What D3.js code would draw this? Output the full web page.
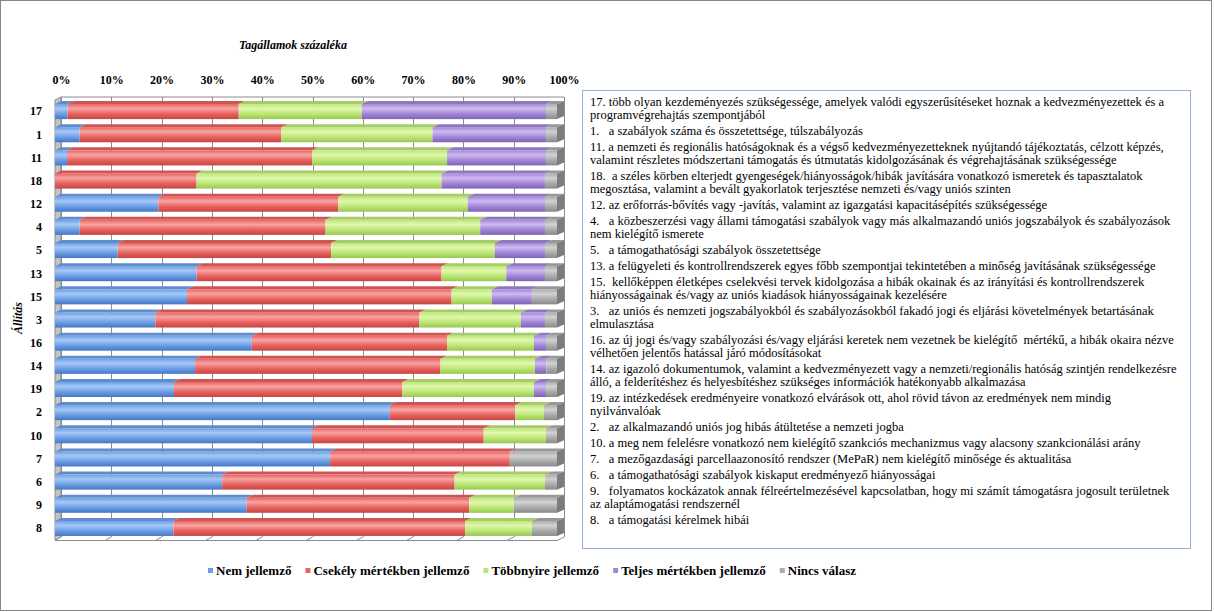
<!DOCTYPE html>
<html>
<head>
<meta charset="utf-8">
<script src="https://cdn.jsdelivr.net/npm/d3@7/dist/d3.min.js"></script>
<style>
  body { margin: 0; background: #fff; }
  svg { display: block; }
</style>
</head>
<body>
<svg id="chart" width="1214" height="612"></svg>
<script>
// statements, top to bottom as in the chart
const categories = ["17", "1", "11", "18", "12", "4", "5", "13", "15", "3", "16", "14", "19", "2", "10", "7", "6", "9", "8"];
const seriesNames = ["Nem jellemző", "Csekély mértékben jellemző", "Többnyire jellemző", "Teljes mértékben jellemző", "Nincs válasz"];

// percentages of member states
const nemJellemzo = [2.5, 4.9, 2.4, 0, 20.6, 4.9, 12.5, 28.2, 26.3, 20.0, 39.2, 27.9, 23.7, 66.7, 51.2, 54.8, 33.3, 38.2, 23.6];
const csekely     = [34.1, 40.2, 48.8, 28.2, 35.8, 49.0, 42.5, 48.8, 52.7, 52.6, 38.9, 48.9, 45.5, 25.0, 34.2, 35.8, 46.3, 44.3, 58.1];
const tobbnyire   = [24.5, 30.1, 26.9, 48.8, 25.8, 30.8, 32.6, 12.9, 8.0, 20.2, 17.3, 18.8, 26.2, 5.7, 12.4, 0, 18.0, 8.9, 13.3];
const teljes      = [36.7, 22.6, 19.7, 20.6, 15.4, 12.9, 10.0, 7.7, 8.0, 4.8, 2.4, 2.3, 2.4, 0, 0, 0, 0, 0, 0];
const nincs       = [2.2, 2.2, 2.2, 2.4, 2.4, 2.4, 2.4, 2.4, 5.0, 2.4, 2.2, 2.1, 2.2, 2.6, 2.2, 9.4, 2.4, 8.6, 5.0];

const tickValues = [0, 10, 20, 30, 40, 50, 60, 70, 80, 90, 100];

const statementLines = [
  ["17. több olyan kezdeményezés szükségessége, amelyek valódi egyszerűsítéseket hoznak a kedvezményezettek és a", "programvégrehajtás szempontjából"],
  ["1.   a szabályok száma és összetettsége, túlszabályozás"],
  ["11. a nemzeti és regionális hatóságoknak és a végső kedvezményezetteknek nyújtandó tájékoztatás, célzott képzés,", "valamint részletes módszertani támogatás és útmutatás kidolgozásának és végrehajtásának szükségessége"],
  ["18.  a széles körben elterjedt gyengeségek/hiányosságok/hibák javítására vonatkozó ismeretek és tapasztalatok", "megosztása, valamint a bevált gyakorlatok terjesztése nemzeti és/vagy uniós szinten"],
  ["12. az erőforrás-bővítés vagy -javítás, valamint az igazgatási kapacitásépítés szükségessége"],
  ["4.   a közbeszerzési vagy állami támogatási szabályok vagy más alkalmazandó uniós jogszabályok és szabályozások", "nem kielégítő ismerete"],
  ["5.   a támogathatósági szabályok összetettsége"],
  ["13. a felügyeleti és kontrollrendszerek egyes főbb szempontjai tekintetében a minőség javításának szükségessége"],
  ["15.  kellőképpen életképes cselekvési tervek kidolgozása a hibák okainak és az irányítási és kontrollrendszerek", "hiányosságainak és/vagy az uniós kiadások hiányosságainak kezelésére"],
  ["3.   az uniós és nemzeti jogszabályokból és szabályozásokból fakadó jogi és eljárási követelmények betartásának", "elmulasztása"],
  ["16. az új jogi és/vagy szabályozási és/vagy eljárási keretek nem vezetnek be kielégítő  mértékű, a hibák okaira nézve", "vélhetően jelentős hatással járó módosításokat"],
  ["14. az igazoló dokumentumok, valamint a kedvezményezett vagy a nemzeti/regionális hatóság szintjén rendelkezésre", "álló, a felderítéshez és helyesbítéshez szükséges információk hatékonyabb alkalmazása"],
  ["19. az intézkedések eredményeire vonatkozó elvárások ott, ahol rövid távon az eredmények nem mindig", "nyilvánvalóak"],
  ["2.   az alkalmazandó uniós jog hibás átültetése a nemzeti jogba"],
  ["10. a meg nem felelésre vonatkozó nem kielégítő szankciós mechanizmus vagy alacsony szankcionálási arány"],
  ["7.   a mezőgazdasági parcellaazonosító rendszer (MePaR) nem kielégítő minősége és aktualitása"],
  ["6.   a támogathatósági szabályok kiskaput eredményező hiányosságai"],
  ["9.   folyamatos kockázatok annak félreértelmezésével kapcsolatban, hogy mi számít támogatásra jogosult területnek", "az alaptámogatási rendszernél"],
  ["8.   a támogatási kérelmek hibái"]
];

// light / mid / dark shade for each series
const palette = {
  "Nem jellemző":               ["#a6c8f6", "#6c9fe6", "#4677c4"],
  "Csekély mértékben jellemző": ["#f7a5a3", "#e8625f", "#c64643"],
  "Többnyire jellemző":         ["#e0f8ae", "#bde676", "#98c852"],
  "Teljes mértékben jellemző":  ["#d0baf0", "#a286d6", "#7f62b6"],
  "Nincs válasz":               ["#d2d2d2", "#ababab", "#8a8a8a"]
};

const FONT = "'Liberation Serif', 'Times New Roman', serif";

const svg = d3.select("svg#chart");
const W = 1214, H = 612;

svg.append("rect")
    .attr("x", 0.5).attr("y", 0.5)
    .attr("width", W - 3).attr("height", H - 2)
    .attr("fill", "#fff").attr("stroke", "#868686");

const defs = svg.append("defs");
seriesNames.forEach((name, i) => {
    const c = palette[name];
    const g = defs.append("linearGradient").attr("id", "grad" + i)
        .attr("x1", 0).attr("y1", 0).attr("x2", 0).attr("y2", 1);
    g.append("stop").attr("offset", "0%").attr("stop-color", c[1]);
    g.append("stop").attr("offset", "30%").attr("stop-color", c[0]);
    g.append("stop").attr("offset", "65%").attr("stop-color", c[1]);
    g.append("stop").attr("offset", "100%").attr("stop-color", c[2]);
});

const rows = categories.map((cat, i) => ({
    cat: cat,
    [seriesNames[0]]: nemJellemzo[i],
    [seriesNames[1]]: csekely[i],
    [seriesNames[2]]: tobbnyire[i],
    [seriesNames[3]]: teljes[i],
    [seriesNames[4]]: nincs[i]
}));
const stacked = d3.stack().keys(seriesNames)(rows);

// front face and back wall of the 3D plot
const xFront = d3.scaleLinear().domain([0, 100]).range([55, 557]);
const xBack = d3.scaleLinear().domain([0, 100]).range([61, 564]);
const y = d3.scaleBand().domain(categories).range([100, 540]).paddingInner(0.35).paddingOuter(0.175);
const DY = 3;
const wallTop = 97, wallBottom = 537, floorY = 540;

// title
svg.append("text")
    .attr("x", 293).attr("y", 49)
    .attr("text-anchor", "middle")
    .style("font-family", FONT)
    .attr("font-size", 12).attr("font-weight", "bold").attr("font-style", "italic")
    .text("Tagállamok százaléka");

// back wall grid
const grid = svg.append("g").attr("class", "grid");
grid.append("line")
    .attr("x1", xBack(0)).attr("x2", xBack(100))
    .attr("y1", wallTop).attr("y2", wallTop)
    .attr("stroke", "#8c8c8c");
grid.selectAll("line.v").data(tickValues).enter().append("line")
    .attr("class", "v")
    .attr("x1", d => Math.round(xBack(d)) + 0.5).attr("x2", d => Math.round(xBack(d)) + 0.5)
    .attr("y1", wallTop).attr("y2", wallBottom)
    .attr("stroke", "#8c8c8c");

// floor
grid.append("line")
    .attr("x1", xFront(0)).attr("x2", xFront(100))
    .attr("y1", floorY + 0.5).attr("y2", floorY + 0.5)
    .attr("stroke", "#8c8c8c");
grid.selectAll("line.f").data(tickValues).enter().append("line")
    .attr("class", "f")
    .attr("x1", d => xFront(d)).attr("x2", d => xBack(d))
    .attr("y1", floorY + 0.5).attr("y2", wallBottom)
    .attr("stroke", "#8c8c8c");

// left wall
svg.append("polygon")
    .attr("points", [[xFront(0), y.range()[0]], [xBack(0), wallTop], [xBack(0), wallBottom], [xFront(0), floorY]].join(" "))
    .attr("fill", "#c4c4c4").attr("stroke", "#8c8c8c");

// top axis
const xAxis = svg.append("g")
    .attr("transform", `translate(0,${wallTop})`)
    .call(d3.axisTop(xBack).tickValues(tickValues).tickSize(0).tickPadding(13).tickFormat(d => d + "%"));
xAxis.select(".domain").remove();
xAxis.selectAll("text")
    .style("font-family", FONT)
    .attr("font-size", 12).attr("font-weight", "bold").attr("fill", "#000");

// left axis labels
const yAxis = svg.append("g")
    .attr("transform", `translate(${xFront(0)},0)`)
    .call(d3.axisLeft(y).tickSize(0).tickPadding(13));
yAxis.select(".domain").remove();
yAxis.selectAll("text")
    .style("font-family", FONT)
    .attr("font-size", 12).attr("font-weight", "bold").attr("fill", "#000");

svg.append("text")
    .attr("transform", "translate(22,318) rotate(-90)")
    .attr("text-anchor", "middle")
    .style("font-family", FONT)
    .attr("font-size", 12).attr("font-weight", "bold").attr("font-style", "italic")
    .text("Állítás");

// bars
const bars = svg.append("g").attr("class", "bars");
stacked.forEach((layer, li) => {
    const c = palette[layer.key];
    const segs = layer.filter(d => d[1] - d[0] > 0);
    const g = bars.append("g");

    g.selectAll("polygon.top").data(segs).enter().append("polygon")
        .attr("class", "top")
        .attr("points", d => {
            const y0 = y(d.data.cat);
            return [[xFront(d[0]), y0], [xFront(d[1]), y0], [xBack(d[1]), y0 - DY], [xBack(d[0]), y0 - DY]].join(" ");
        })
        .attr("fill", d3.color(c[1]).darker(0.35));

    g.selectAll("rect").data(segs).enter().append("rect")
        .attr("x", d => xFront(d[0]))
        .attr("y", d => y(d.data.cat))
        .attr("width", d => xFront(d[1]) - xFront(d[0]))
        .attr("height", y.bandwidth())
        .attr("fill", `url(#grad${li})`);

    // right side of the bar end
    g.selectAll("polygon.side").data(segs.filter(d => d[1] >= 99.95)).enter().append("polygon")
        .attr("class", "side")
        .attr("points", d => {
            const y0 = y(d.data.cat), h = y.bandwidth();
            return [[xFront(100), y0], [xBack(100), y0 - DY], [xBack(100), y0 + h - DY], [xFront(100), y0 + h]].join(" ");
        })
        .attr("fill", d3.color(c[2]).darker(0.3));
});

// legend
const legend = svg.append("g").attr("class", "legend");
let lx = 208;
seriesNames.forEach((name, i) => {
    legend.append("rect")
        .attr("x", lx).attr("y", 568)
        .attr("width", 5).attr("height", 5)
        .attr("fill", palette[name][1]);
    const t = legend.append("text")
        .attr("x", lx + 8).attr("y", 575)
        .style("font-family", FONT)
        .attr("font-size", 13).attr("font-weight", "bold")
        .text(name);
    lx += 8 + t.node().getComputedTextLength() + 14;
});

// statements text box
const box = svg.append("g").attr("class", "statements");
box.append("rect")
    .attr("x", 582.5).attr("y", 90.5)
    .attr("width", 608).attr("height", 458)
    .attr("fill", "#fff").attr("stroke", "#95b3d7");

let ty = 106;
statementLines.forEach(par => {
    par.forEach(line => {
        box.append("text")
            .attr("x", 590).attr("y", ty)
            .style("font-family", FONT)
            .attr("font-size", 12.5)
            .style("white-space", "pre")
            .text(line);
        ty += 13;
    });
    ty += 3;
});
</script>
</body>
</html>
